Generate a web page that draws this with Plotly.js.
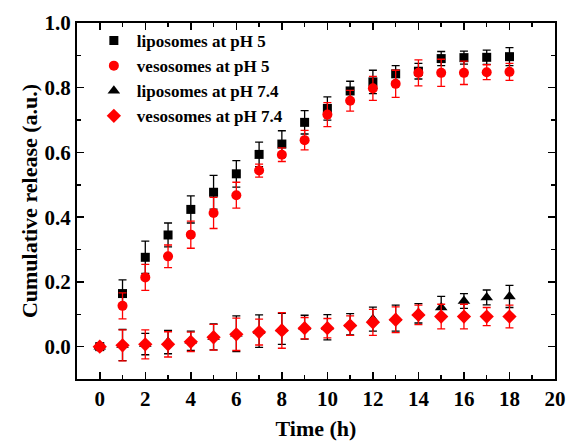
<!DOCTYPE html>
<html>
<head>
<meta charset="utf-8">
<script src="https://cdn.plot.ly/plotly-3.0.1.min.js"></script>
<style>html,body{margin:0;padding:0;background:#fff;}#chart{width:568px;height:446px;}</style>
</head>
<body>
<div id="chart"></div>
<script>
const timeH = [0,1,2,3,4,5,6,7,8,9,10,11,12,13,14,15,16,17,18];
const seriesNames = ["liposomes at pH 5","vesosomes at pH 5","liposomes at pH 7.4","vesosomes at pH 7.4"];
const lipo5 = [0,0.164,0.276,0.345,0.424,0.477,0.534,0.594,0.626,0.693,0.736,0.79,0.818,0.843,0.851,0.89,0.893,0.894,0.896];
const lipo5Err = [0,0.042,0.05,0.037,0.042,0.052,0.041,0.038,0.041,0.036,0.036,0.03,0.036,0.025,0.024,0.022,0.02,0.022,0.028];
const veso5 = [0,0.126,0.214,0.279,0.346,0.413,0.468,0.544,0.593,0.638,0.717,0.76,0.798,0.812,0.846,0.846,0.846,0.848,0.849];
const veso5Err = [0,0.04,0.04,0.035,0.042,0.048,0.04,0.02,0.021,0.03,0.037,0.032,0.037,0.042,0.04,0.042,0.036,0.023,0.026];
const lipo74 = [0,0.005,0.008,0.014,0.018,0.03,0.04,0.048,0.055,0.06,0.06,0.069,0.085,0.088,0.103,0.121,0.141,0.152,0.155];
const lipo74Err = [0,0.048,0.033,0.036,0.03,0.04,0.055,0.05,0.048,0.037,0.039,0.033,0.037,0.04,0.03,0.034,0.023,0.023,0.034];
const veso74 = [0,0.004,0.007,0.007,0.015,0.029,0.038,0.045,0.05,0.057,0.057,0.065,0.075,0.083,0.098,0.093,0.093,0.093,0.093];
const veso74Err = [0,0.048,0.045,0.039,0.03,0.04,0.05,0.04,0.055,0.033,0.03,0.03,0.04,0.04,0.03,0.038,0.038,0.028,0.035];

const FONT = "Liberation Serif, Times New Roman, serif";
function tr(name, y, err, color, symbol, size) {
  return {
    type: "scatter", mode: "markers", name: name, x: timeH, y: y,
    marker: {color: color, symbol: symbol, size: size, line: {width: 0}},
    error_y: {type: "data", array: err, visible: true, color: color, thickness: 1.3, width: 4}
  };
}
const data = [
  tr(seriesNames[0], lipo5, lipo5Err, "#000000", "square", 9),
  tr(seriesNames[1], veso5, veso5Err, "#ff0000", "circle", 10),
  tr(seriesNames[2], lipo74, lipo74Err, "#000000", "triangle-up", 11),
  tr(seriesNames[3], veso74, veso74Err, "#ff0000", "diamond", 11)
];
const axisCommon = {
  showline: true, linewidth: 2, linecolor: "#000", mirror: "allticks",
  ticks: "inside", ticklen: 7, tickwidth: 1.5, tickcolor: "#000",
  showgrid: false, zeroline: false,
  tickfont: {family: FONT, size: 21, color: "#000", weight: "bold"}
};
const layout = {
  width: 568, height: 446,
  margin: {l: 77, r: 13, t: 23, b: 67},
  paper_bgcolor: "#fff", plot_bgcolor: "#fff",
  font: {family: FONT, color: "#000"},
  showlegend: true,
  legend: {x: 0.029, y: 1.0, xanchor: "left", yanchor: "top", bgcolor: "rgba(0,0,0,0)", itemwidth: 36,
    font: {family: FONT, size: 17, color: "#000", weight: "bold"}},
  xaxis: Object.assign({}, axisCommon, {
    range: [-1, 20], tickvals: [0,2,4,6,8,10,12,14,16,18,20],
    minor: {tickvals: [-1,1,3,5,7,9,11,13,15,17,19], ticks: "inside", ticklen: 4, tickwidth: 1.5, tickcolor: "#000"},
    title: {text: "Time (h)", font: {family: FONT, size: 22, color: "#000", weight: "bold"}, standoff: 10}
  }),
  yaxis: Object.assign({}, axisCommon, {
    range: [-0.1, 1.0], tickvals: [0,0.2,0.4,0.6,0.8,1.0], tickformat: ".1f",
    minor: {tickvals: [-0.1,0.1,0.3,0.5,0.7,0.9], ticks: "inside", ticklen: 4, tickwidth: 1.5, tickcolor: "#000"},
    title: {text: "Cumulative release (a.u.)", font: {family: FONT, size: 22, color: "#000", weight: "bold"}, standoff: 1}
  })
};
Plotly.newPlot("chart", data, layout, {displayModeBar: false, staticPlot: true});
</script>
</body>
</html>
